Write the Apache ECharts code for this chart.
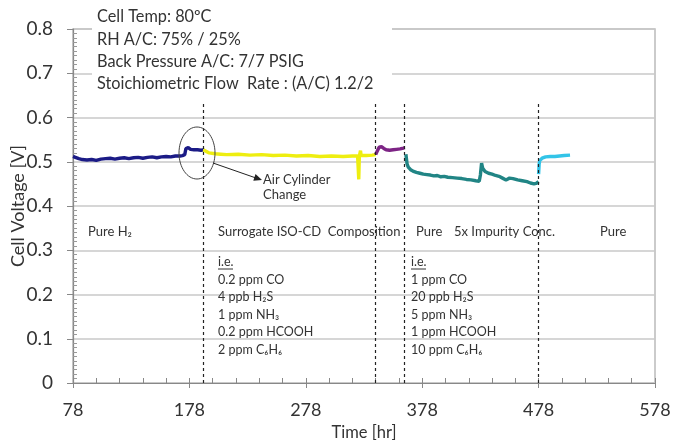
<!DOCTYPE html>
<html><head><meta charset="utf-8">
<script src="https://cdn.jsdelivr.net/npm/echarts@6/dist/echarts.min.js"></script>
<style>html,body{margin:0;padding:0;background:#fff}#c{width:673px;height:440px}</style>
</head><body><div id="c"></div>
<script>
// ---- data ----
const xTicks = [78, 178, 278, 378, 478, 578];
const yTicks = [0, 0.1, 0.2, 0.3, 0.4, 0.5, 0.6, 0.7, 0.8];
const pureH2 = [[78,0.512],[80,0.510],[83,0.507],[86,0.505],[90,0.504],[94,0.505],[98,0.503],[102,0.506],[106,0.507],[110,0.508],[114,0.506],[118,0.508],[122,0.509],[126,0.507],[130,0.509],[134,0.510],[138,0.508],[142,0.510],[146,0.511],[150,0.509],[154,0.511],[158,0.512],[162,0.511],[166,0.513],[170,0.513],[172,0.514],[174,0.516],[175,0.530],[177,0.532],[179,0.528],[182,0.527],[185,0.527],[188,0.526],[190,0.527]];
const surrogate = [[190,0.527],[192,0.524],[195,0.520],[200,0.518],[205,0.517],[210,0.516],[220,0.517],[230,0.515],[240,0.516],[250,0.514],[260,0.515],[270,0.513],[280,0.514],[290,0.512],[300,0.513],[310,0.512],[318,0.513],[322.5,0.513],[323.5,0.46],[324,0.513],[325,0.525],[325.5,0.514],[330,0.514],[335,0.515],[338,0.516]];
const pure2 = [[338,0.516],[339,0.522],[341,0.533],[343,0.534],[345,0.530],[347,0.527],[350,0.526],[353,0.527],[356,0.528],[359,0.529],[362,0.531],[363,0.532]];
const impurity5x = [[364,0.517],[365,0.495],[366,0.488],[368,0.482],[370,0.479],[373,0.476],[376,0.474],[379,0.472],[382,0.471],[385,0.470],[388,0.468],[391,0.469],[394,0.466],[397,0.467],[400,0.465],[404,0.464],[408,0.463],[412,0.462],[416,0.460],[420,0.459],[424,0.457],[427,0.456],[428,0.470],[429,0.497],[430,0.485],[432,0.478],[435,0.474],[438,0.472],[441,0.469],[444,0.467],[447,0.463],[450,0.459],[453,0.463],[456,0.462],[460,0.459],[464,0.457],[468,0.455],[471,0.452],[474,0.450],[476,0.451],[478,0.455]];
const pure3 = [[478,0.472],[478.5,0.495],[479,0.503],[481,0.508],[484,0.511],[488,0.512],[492,0.512],[496,0.513],[500,0.514],[505,0.515]];
const phaseBoundaries = [190, 338, 363, 478];
const boundaryTop = 0.635;
const conditions = ['Cell Temp: 80ºC', 'RH A/C: 75% / 25%', 'Back Pressure A/C: 7/7 PSIG', 'Stoichiometric Flow  Rate : (A/C) 1.2/2'];
const phaseLabels = ['Pure H₂', 'Surrogate ISO-CD  Composition', 'Pure', '5x Impurity Conc.', 'Pure'];
const mixA = ['0.2 ppm CO', '4 ppb H₂S', '1 ppm NH₃', '0.2 ppm HCOOH', '2 ppm C₆H₆'];
const mixB = ['1 ppm CO', '20 ppb H₂S', '5 ppm NH₃', '1 ppm HCOOH', '10 ppm C₆H₆'];

// ---- chart ----
const FONT = 'Lato, "Open Sans", sans-serif';
const TXT = '#333';
const chart = echarts.init(document.getElementById('c'), null, {renderer: 'canvas'});

function lineSeries(data, color) {
  return {type: 'line', data: data, showSymbol: false, symbol: 'none', smooth: false,
    lineStyle: {color: color, width: 3.4}, z: 3, animation: false};
}

const boundaryLines = phaseBoundaries.map(x => [{coord: [x, 0]}, {coord: [x, boundaryTop]}]);

const graphics = [];
graphics.push({type: 'rect', shape: {x: 92, y: 4, width: 300, height: 92}, style: {fill: '#fff'}, z: 10});
conditions.forEach((t, i) => graphics.push({type: 'text', x: 97, y: 17 + i * 22.4, z: 11,
  style: {text: t, font: '16.3px ' + FONT, fill: TXT, textVerticalAlign: 'middle'}}));
graphics.push({type: 'ellipse', shape: {cx: 197, cy: 153, rx: 18, ry: 26}, style: {stroke: '#444', fill: 'none', lineWidth: 1}, z: 11});
graphics.push({type: 'line', shape: {x1: 213, y1: 163, x2: 256, y2: 178}, style: {stroke: '#222', lineWidth: 1}, z: 11});
graphics.push({type: 'polygon', shape: {points: [[262, 180], [253.3, 180.7], [255.5, 174.1]]}, style: {fill: '#222'}, z: 11});
graphics.push({type: 'text', x: 263, y: 180, z: 11, style: {text: 'Air Cylinder', font: '13px ' + FONT, fill: TXT, textVerticalAlign: 'middle'}});
graphics.push({type: 'text', x: 263, y: 195, z: 11, style: {text: 'Change', font: '13px ' + FONT, fill: TXT, textVerticalAlign: 'middle'}});
const phaseX = [88, 218, 416, 454, 600];
phaseLabels.forEach((t, i) => graphics.push({type: 'text', x: phaseX[i], y: 232, z: 11,
  style: {text: t, font: '13px ' + FONT, fill: TXT, textVerticalAlign: 'middle'}}));
[[218, mixA], [411, mixB]].forEach(([x0, list]) => {
  graphics.push({type: 'text', x: x0, y: 262, z: 11, style: {text: 'i.e.', font: '12.5px ' + FONT, fill: TXT, textVerticalAlign: 'middle'}});
  graphics.push({type: 'line', shape: {x1: x0, y1: 269, x2: x0 + 15, y2: 269}, style: {stroke: TXT, lineWidth: 1}, z: 11});
  list.forEach((t, i) => graphics.push({type: 'text', x: x0, y: 280 + i * 17.4, z: 11,
    style: {text: t, font: '12.5px ' + FONT, fill: TXT, textVerticalAlign: 'middle'}}));
});

const option = {
  animation: false,
  backgroundColor: '#fff',
  grid: {left: 73, right: 18, top: 29, bottom: 57, show: true, borderColor: '#bbb', borderWidth: 1.5,
    containLabel: false, outerBoundsMode: 'none'},
  xAxis: [{
    type: 'value', min: xTicks[0], max: xTicks[xTicks.length - 1], interval: 100, position: 'bottom',
    name: 'Time [hr]', nameLocation: 'middle', nameGap: 41, nameMoveOverlap: false,
    nameTextStyle: {fontFamily: FONT, fontSize: 16.5, color: TXT},
    axisLine: {show: true, onZero: false, lineStyle: {color: '#888', width: 1.2}},
    axisTick: {show: true, inside: false, length: 5, lineStyle: {color: '#888'}},
    axisLabel: {fontFamily: FONT, fontSize: 18, color: TXT, margin: 18, hideOverlap: false},
    splitLine: {show: false}
  }, {
    type: 'value', min: xTicks[0], max: xTicks[xTicks.length - 1], interval: 100, position: 'bottom',
    axisLine: {show: false}, axisLabel: {show: false}, splitLine: {show: false},
    axisTick: {show: true, inside: true, length: 5, lineStyle: {color: '#888'}},
    minorTick: {show: true, splitNumber: 5, length: 5, lineStyle: {color: '#888'}}
  }],
  yAxis: [{
    type: 'value', min: yTicks[0], max: yTicks[yTicks.length - 1], interval: 0.1, position: 'left',
    name: 'Cell Voltage [V]', nameLocation: 'middle', nameGap: 46, nameMoveOverlap: false,
    nameTextStyle: {fontFamily: FONT, fontSize: 18, color: TXT},
    axisLine: {show: true, onZero: false, lineStyle: {color: '#888', width: 1.2}},
    axisTick: {show: true, inside: false, length: 6, lineStyle: {color: '#888'}},
    axisLabel: {fontFamily: FONT, fontSize: 19, color: TXT, margin: 20, formatter: v => String(+v.toFixed(1))},
    splitLine: {show: true, lineStyle: {color: '#c8c8c8', width: 1.5}}
  }, {
    type: 'value', min: yTicks[0], max: yTicks[yTicks.length - 1], interval: 0.1, position: 'left',
    axisLine: {show: false}, axisLabel: {show: false}, splitLine: {show: false},
    axisTick: {show: false, inside: true},
    minorTick: {show: true, splitNumber: 10, length: 4, lineStyle: {color: '#999'}}
  }],
  series: [
    Object.assign(lineSeries(pureH2, '#1b1b86'), {
      markLine: {silent: true, symbol: 'none', animation: false, label: {show: false},
        lineStyle: {color: '#222', type: [3, 3], width: 1.2}, data: boundaryLines}
    }),
    lineSeries(surrogate, '#eeee10'),
    lineSeries(pure2, '#7d2485'),
    lineSeries(impurity5x, '#218585'),
    lineSeries(pure3, '#33c4e8')
  ],
  graphic: graphics
};
chart.setOption(option);
</script></body></html>
